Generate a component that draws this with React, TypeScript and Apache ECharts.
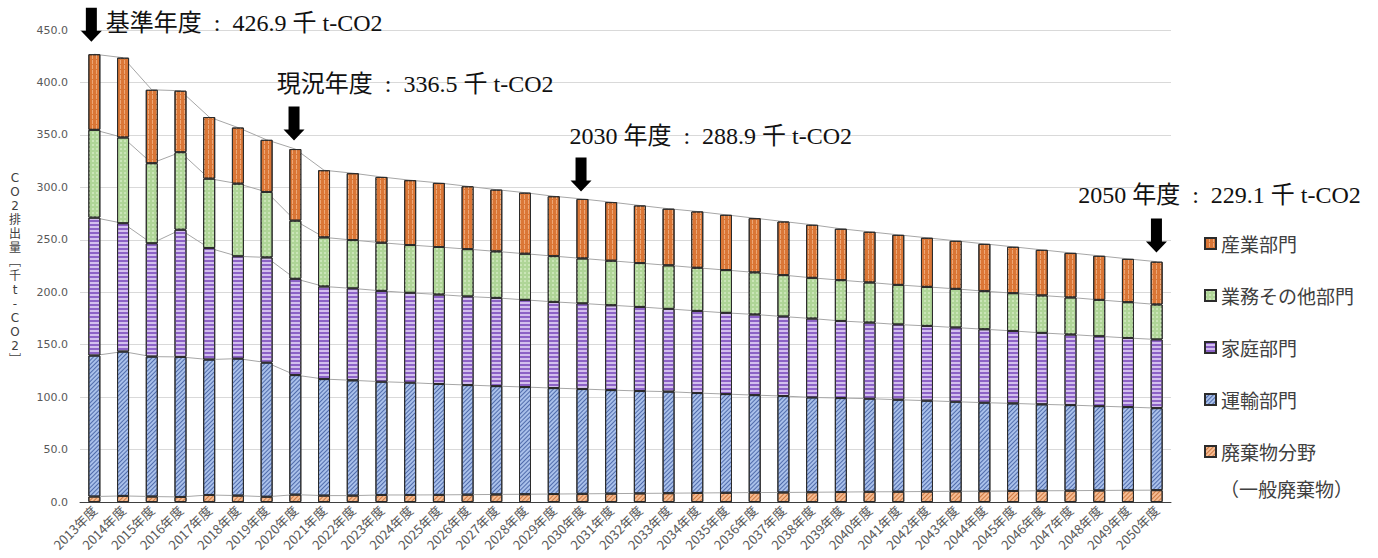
import { useEffect, useRef } from 'react';
import * as echarts from 'echarts';

const categories = [
  '2013年度', '2014年度', '2015年度', '2016年度', '2017年度', '2018年度', '2019年度', '2020年度',
  '2021年度', '2022年度', '2023年度', '2024年度', '2025年度', '2026年度', '2027年度', '2028年度',
  '2029年度', '2030年度', '2031年度', '2032年度', '2033年度', '2034年度', '2035年度', '2036年度',
  '2037年度', '2038年度', '2039年度', '2040年度', '2041年度', '2042年度', '2043年度', '2044年度',
  '2045年度', '2046年度', '2047年度', '2048年度', '2049年度', '2050年度',
];

const seriesNames = ['産業部門', '業務その他部門', '家庭部門', '運輸部門', '廃棄物分野'];

const waste = [
  5.2, 5.8, 5.2, 4.8, 6.7, 6.1, 5.0, 7.0, 6.1, 6.1,
  6.7, 6.7, 6.8, 7.0, 7.2, 7.4, 7.6, 7.8, 8.0, 8.2,
  8.4, 8.6, 8.8, 9.0, 9.1, 9.3, 9.5, 9.7, 9.8, 10.0,
  10.2, 10.3, 10.5, 10.7, 10.8, 11.0, 11.2, 11.3,
];
const transport = [
  134.4, 137.6, 133.4, 133.5, 129.1, 130.6, 127.9, 114.0, 111.1, 109.9,
  108.0, 107.1, 105.7, 104.5, 103.3, 102.2, 101.0, 99.9, 98.7, 97.6,
  96.8, 95.3, 94.1, 92.9, 91.9, 90.4, 89.6, 88.8, 87.7, 86.6,
  85.4, 84.4, 83.5, 82.4, 81.6, 80.4, 79.3, 78.2,
];
const household = [
  131.5, 122.3, 108.0, 121.3, 106.3, 97.5, 100.3, 91.8, 88.3, 87.6,
  86.6, 85.6, 85.3, 84.4, 84.1, 83.1, 82.2, 81.6, 80.9, 80.2,
  78.9, 78.3, 77.4, 76.9, 75.8, 75.2, 73.5, 72.6, 71.7, 71.3,
  70.7, 70.0, 69.1, 68.1, 67.3, 66.6, 65.9, 65.4,
];
const business = [
  83.7, 81.8, 76.4, 73.9, 66.2, 69.3, 62.4, 55.4, 46.8, 46.1,
  45.9, 45.6, 45.3, 45.2, 44.3, 44.0, 43.6, 42.9, 42.4, 41.8,
  41.5, 41.1, 40.8, 40.1, 39.5, 38.8, 38.9, 38.2, 37.8, 37.2,
  36.9, 36.3, 36.0, 35.7, 35.3, 34.7, 34.1, 33.4,
];
const industry = [
  72.1, 76.1, 70.0, 58.6, 58.7, 53.5, 49.7, 68.3, 64.0, 63.8,
  62.7, 61.8, 61.1, 59.9, 58.9, 58.2, 57.1, 56.7, 55.9, 54.9,
  54.0, 53.7, 52.7, 51.7, 51.1, 50.6, 49.0, 48.3, 47.7, 46.8,
  45.8, 45.1, 44.2, 43.5, 42.5, 42.0, 41.3, 40.8,
];

const annotationYears = ['2013年度', '2020年度', '2030年度', '2050年度'];
const annotationTexts = [
  '基準年度\u2002:\u2002426.9 千 t-CO2',
  '現況年度\u2002:\u2002336.5 千 t-CO2',
  '2030 年度\u2002:\u2002288.9 千 t-CO2',
  '2050 年度\u2002:\u2002229.1 千 t-CO2',
];

const yAxisName = ['C', 'O', '2', '排', '出', '量', '﹇', '千', 't', '-', 'C', 'O', '2', '﹈'];
const wasteSubLabel = '（一般廃棄物）';

const Y_MIN = 0;
const Y_MAX = 450;
const Y_INTERVAL = 50;

// layout / style (not data)
const arrowOffsets = [[-3, -29.6], [-1.3, -25.6], [-1.4, -24.4], [-0.2, -26.3]];
const labelOffsets = [[12, -30.5], [-18, -65], [-12.5, -62.5], [-78, -66.5]];
const arrowPath = 'path://M5,0 L16,0 L16,23 L21,23 L10.5,34 L0,23 L5,23 Z';

const cumulative = (arrs: number[][]) =>
  categories.map((_, i) => Math.round(arrs.reduce((s, a) => s + a[i], 0) * 10) / 10);

export default function App() {
  const ref = useRef<HTMLDivElement>(null);

  useEffect(() => {
    if (!ref.current) return;
    const chart = echarts.init(ref.current, undefined, { renderer: 'svg' });

    const stacks = [waste, transport, household, business, industry];
    const tops = stacks.map((_, k) => cumulative(stacks.slice(0, k + 1)));
    const totals = tops[4];

    const borderColor = '#2b2b2b';
    const barBase = {
      type: 'bar' as const,
      stack: 'total',
      barWidth: 12,
      z: 3,
      emphasis: { disabled: true },
    };

    const barSeries = [
      {
        ...barBase,
        name: '廃棄物分野',
        data: waste,
        itemStyle: {
          color: '#F6BC93',
          borderColor,
          borderWidth: 1,
          decal: {
            symbol: 'rect',
            symbolSize: 1,
            symbolKeepAspect: false,
            dashArrayX: [1, 0],
            dashArrayY: [1, 2],
            rotation: -Math.PI / 4,
            color: 'rgba(190,100,40,0.75)',
          },
        },
      },
      {
        ...barBase,
        name: '運輸部門',
        data: transport,
        itemStyle: {
          color: '#A9C0EA',
          borderColor,
          borderWidth: 1,
          decal: {
            symbol: 'rect',
            symbolSize: 1,
            symbolKeepAspect: false,
            dashArrayX: [1, 0],
            dashArrayY: [1, 2],
            rotation: -Math.PI / 4,
            color: 'rgba(50,80,150,0.75)',
          },
        },
      },
      {
        ...barBase,
        name: '家庭部門',
        data: household,
        itemStyle: {
          color: '#D3BFEE',
          borderColor,
          borderWidth: 1,
          decal: {
            symbol: 'rect',
            symbolSize: 1,
            symbolKeepAspect: false,
            dashArrayX: [1, 0],
            dashArrayY: [2, 2],
            color: '#8C62C6',
          },
        },
      },
      {
        ...barBase,
        name: '業務その他部門',
        data: business,
        itemStyle: {
          color: '#AFD597',
          borderColor,
          borderWidth: 1,
          decal: {
            symbol: 'rect',
            symbolSize: 1,
            symbolKeepAspect: false,
            dashArrayX: [2, 2],
            dashArrayY: [2, 2],
            color: 'rgba(220,240,205,0.6)',
          },
        },
      },
      {
        ...barBase,
        name: '産業部門',
        data: industry,
        itemStyle: {
          color: '#DA7636',
          borderColor,
          borderWidth: 1,
          decal: {
            symbol: 'rect',
            symbolSize: 1,
            symbolKeepAspect: false,
            dashArrayX: [1, 3],
            dashArrayY: [4, 1],
            color: 'rgba(250,200,160,0.6)',
          },
        },
      },
    ];

    const lineSeries = tops.map((arr, k) => ({
      type: 'line' as const,
      name: 'line' + k,
      data: arr,
      symbol: 'none',
      showSymbol: false,
      z: 1,
      silent: true,
      lineStyle: { color: '#A6A6A6', width: 1 },
      emphasis: { disabled: true },
      ...(k === 4
        ? {
            markPoint: {
              silent: true,
              animation: false,
              data: annotationYears.flatMap((yr, i) => {
                const idx = categories.indexOf(yr);
                return [
                  {
                    coord: [yr, totals[idx]],
                    symbol: arrowPath,
                    symbolSize: [21, 34],
                    symbolKeepAspect: false,
                    symbolOffset: arrowOffsets[i],
                    itemStyle: { color: '#000' },
                    label: { show: false },
                  },
                  {
                    coord: [yr, totals[idx]],
                    symbol: 'rect',
                    symbolSize: 1,
                    itemStyle: { color: 'rgba(0,0,0,0)' },
                    label: {
                      show: true,
                      formatter: annotationTexts[i],
                      position: labelOffsets[i],
                      align: 'left',
                      verticalAlign: 'middle',
                      fontSize: 24,
                      color: '#111',
                      fontFamily: '"Liberation Serif", "Noto Sans CJK JP", serif',
                    },
                  },
                ];
              }),
            },
          }
        : {}),
    }));

    chart.setOption({
      animation: false,
      backgroundColor: '#ffffff',
      grid: { left: 80, right: 207, top: 30, bottom: 56, containLabel: false },
      legend: {
        data: seriesNames,
        orient: 'vertical',
        left: 1199,
        top: 229,
        itemWidth: 11,
        itemHeight: 11,
        itemGap: 33,
        icon: 'rect',
        selectedMode: false,
        textStyle: {
          fontSize: 19,
          color: '#404040',
          fontFamily: '"Noto Sans CJK JP", sans-serif',
        },
      },
      xAxis: {
        type: 'category',
        data: categories,
        axisTick: { show: false },
        axisLine: { lineStyle: { color: '#404040', width: 1 } },
        axisLabel: {
          interval: 0,
          rotate: 45,
          fontSize: 13,
          color: '#595959',
          margin: 6,
          fontFamily: '"Noto Sans CJK JP", sans-serif',
        },
      },
      yAxis: {
        type: 'value',
        min: Y_MIN,
        max: Y_MAX,
        interval: Y_INTERVAL,
        axisLine: { show: false },
        axisTick: { show: false },
        splitLine: { lineStyle: { color: '#D9D9D9', width: 1 } },
        axisLabel: {
          formatter: (v: number) => v.toFixed(1),
          fontSize: 11,
          color: '#595959',
          margin: 12,
          fontFamily: '"DejaVu Sans", sans-serif',
        },
      },
      graphic: [
        {
          type: 'text',
          x: 15,
          y: 171,
          style: {
            text: yAxisName.join('\n'),
            fontSize: 12,
            lineHeight: 14,
            fill: '#404040',
            align: 'center',
            verticalAlign: 'top',
            fontFamily: '"DejaVu Sans", "Noto Sans CJK JP", sans-serif',
          },
        },
        {
          type: 'text',
          left: 1220,
          top: 479,
          style: {
            text: wasteSubLabel,
            fontSize: 19,
            fill: '#404040',
            fontFamily: '"Noto Sans CJK JP", sans-serif',
          },
        },
      ],
      series: [...lineSeries, ...barSeries],
    });

    return () => chart.dispose();
  }, []);

  return (
    <div
      ref={ref}
      style={{ position: 'absolute', left: 0, top: 0, width: 1378, height: 558, background: '#fff' }}
    />
  );
}
